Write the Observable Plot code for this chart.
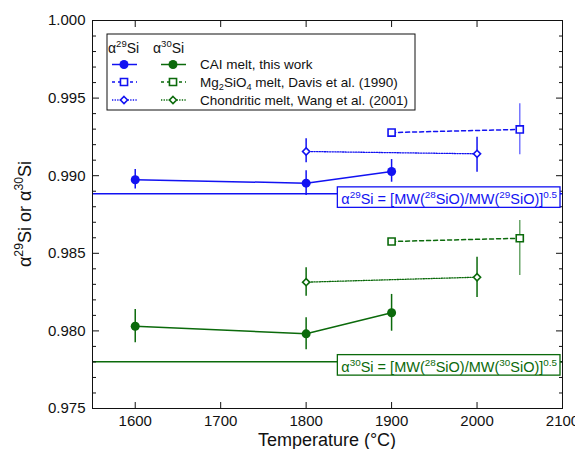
<!DOCTYPE html>
<html><head><meta charset="utf-8">
<script src="https://cdn.jsdelivr.net/npm/d3@7"></script>
<script src="https://cdn.jsdelivr.net/npm/@observablehq/plot@0.6"></script>
<style>body{margin:0;background:#fff;} svg{display:block}</style>
</head><body><div id="chart"></div>
<script>
// ---- data ----
const caiT = [1600, 1800, 1900];
const cai29 = [0.98974, 0.98952, 0.99027];
const cai29Lo = [0.98915, 0.98872, 0.98958];
const cai29Hi = [0.99040, 0.99032, 0.99104];
const cai30 = [0.98030, 0.97981, 0.98117];
const cai30Lo = [0.97923, 0.97878, 0.97998];
const cai30Hi = [0.98138, 0.98084, 0.98235];

const davisT = [1900, 2050];
const davis29 = [0.99278, 0.99298];
const davis29Lo = [null, 0.99135];
const davis29Hi = [null, 0.99463];
const davis30 = [0.98576, 0.98597];
const davis30Lo = [null, 0.98357];
const davis30Hi = [null, 0.98712];

const wangT = [1800, 2000];
const wang29 = [0.99156, 0.99141];
const wang29Lo = [0.99083, 0.99023];
const wang29Hi = [0.99238, 0.99248];
const wang30 = [0.98314, 0.98346];
const wang30Lo = [0.98224, 0.98215];
const wang30Hi = [0.98407, 0.98475];

const theory29 = [0.98883];
const theory30 = [0.97802];

const xTicks = [1600, 1700, 1800, 1900, 2000, 2100];
const yMajor = [0.975, 0.980, 0.985, 0.990, 0.995, 1.000];
const yMinor = [0.976, 0.977, 0.978, 0.979, 0.981, 0.982, 0.983, 0.984, 0.986, 0.987, 0.988, 0.989,
                0.991, 0.992, 0.993, 0.994, 0.996, 0.997, 0.998, 0.999];

const FONT = "'Liberation Sans', Arial, Helvetica, sans-serif";
const BLUE = "#1212f2", GREEN = "#0b6a0b", BLUE_LIGHT = "#7676ff", GREEN_LIGHT = "#6aa66a";
const DASH = "4,3", DOT = "1.3,1.3";

function rows(T, v, lo, hi) {
  return T.map((t, i) => ({t, v: v[i], lo: lo[i], hi: hi[i]}));
}
const cai29R = rows(caiT, cai29, cai29Lo, cai29Hi);
const cai30R = rows(caiT, cai30, cai30Lo, cai30Hi);
const davis29R = rows(davisT, davis29, davis29Lo, davis29Hi);
const davis30R = rows(davisT, davis30, davis30Lo, davis30Hi);
const wang29R = rows(wangT, wang29, wang29Lo, wang29Hi);
const wang30R = rows(wangT, wang30, wang30Lo, wang30Hi);
const hasErr = d => d.lo != null;

function series(data, color, errColor, dash, symbol, r, filled, lw = 1.5) {
  return [
    Plot.ruleX(data.filter(hasErr), {x: "t", y1: "lo", y2: "hi", stroke: errColor, strokeWidth: 1.5}),
    Plot.line(data, {x: "t", y: "v", stroke: color, strokeWidth: lw, strokeDasharray: dash}),
    Plot.dot(data, {x: "t", y: "v", symbol, r, stroke: color, strokeWidth: filled ? 0 : 1.6,
                    fill: filled ? color : "white"})
  ];
}

const chart = Plot.plot({
  width: 575, height: 449,
  marginLeft: 92, marginRight: 13, marginTop: 20, marginBottom: 41,
  style: {fontFamily: FONT, fontSize: "15px", color: "#111", background: "white", overflow: "visible"},
  x: {domain: [1550, 2100], label: null},
  y: {domain: [0.975, 1.0], label: null},
  marks: [
    Plot.ruleY(theory29, {y: d => d, stroke: BLUE, strokeWidth: 1.5}),
    Plot.ruleY(theory30, {y: d => d, stroke: GREEN, strokeWidth: 1.5}),
    ...series(cai29R, BLUE, BLUE, null, "circle", 4.5, true),
    ...series(cai30R, GREEN, GREEN, null, "circle", 4.5, true),
    ...series(davis29R, BLUE, BLUE_LIGHT, DASH, "square", 4, false),
    ...series(davis30R, GREEN, GREEN_LIGHT, DASH, "square", 4, false),
    ...series(wang29R, BLUE, BLUE, DOT, "diamond2", 3.2, false, 1.3),
    ...series(wang30R, GREEN, GREEN, DOT, "diamond2", 3.2, false, 1.3),
    Plot.axisX(xTicks, {anchor: "bottom", tickSize: 0, tickPadding: 7, tickFormat: d3.format("d"), label: null, fontSize: 15}),
    Plot.axisX(xTicks, {anchor: "bottom", tickSize: 6, dy: -6, tickFormat: () => "", label: null}),
    Plot.axisX(xTicks, {anchor: "top", tickSize: 6, dy: 6, tickFormat: () => "", label: null}),
    Plot.axisY(yMajor, {anchor: "left", tickSize: 0, tickPadding: 7, tickFormat: d3.format(".3f"), label: null, fontSize: 15}),
    Plot.axisY(yMajor, {anchor: "left", tickSize: 7, dx: 7, tickFormat: () => "", label: null}),
    Plot.axisY(yMinor, {anchor: "left", tickSize: 4, dx: 4, tickFormat: () => "", label: null}),
    Plot.axisY(yMajor, {anchor: "right", tickSize: 7, dx: -7, tickFormat: () => "", label: null}),
    Plot.axisY(yMinor, {anchor: "right", tickSize: 4, dx: -4, tickFormat: () => "", label: null}),
    Plot.frame({stroke: "#111", strokeWidth: 1})
  ]
});
document.getElementById("chart").appendChild(chart);

// ---- text with sub/superscripts ----
const svg = d3.select(chart);
const xs = chart.scale("x"), ys = chart.scale("y");

function addRich(textSel, parts, size) {
  let shift = 0;
  for (const [s, kind] of parts) {
    const target = kind === "sup" ? -0.42 * size : kind === "sub" ? 0.28 * size : 0;
    textSel.append("tspan").attr("dy", (target - shift).toFixed(2))
      .attr("font-size", kind ? size * 0.68 : size).text(s);
    shift = target;
  }
  return textSel;
}

// axis titles
svg.append("text").attr("x", (xs.apply(1550) + xs.apply(2100)) / 2).attr("y", 446)
  .attr("text-anchor", "middle").attr("font-family", FONT).attr("font-size", 18).attr("fill", "#111")
  .text("Temperature (°C)");
addRich(svg.append("text").attr("transform", `translate(31,${(ys.apply(0.975) + ys.apply(1.0)) / 2}) rotate(-90)`)
  .attr("text-anchor", "middle").attr("font-family", FONT).attr("fill", "#111"),
  [["α"], ["29", "sup"], ["Si or α"], ["30", "sup"], ["Si"]], 18);

// annotation boxes
function annot(val, color, iso) {
  const yl = ys.apply(val);
  const xr = xs.apply(2100);
  const g = svg.append("g");
  const rect = g.append("rect");
  const t = addRich(g.append("text").attr("x", xr - 5).attr("y", yl + 10.5).attr("text-anchor", "end")
    .attr("font-family", FONT).attr("fill", color),
    [["α"], [iso, "sup"], ["Si = [MW("], ["28", "sup"], ["SiO)/MW("], [iso, "sup"], ["SiO)]"], ["0.5", "sup"]], 14.5);
  const bb = t.node().getBBox();
  rect.attr("x", bb.x - 4).attr("y", yl - 6.5).attr("width", xr - 2 - (bb.x - 4)).attr("height", 20.5)
    .attr("fill", "white").attr("stroke", color).attr("stroke-width", 1.3);
}
annot(theory29[0], BLUE, "29");
annot(theory30[0], GREEN, "30");

// legend
const lg = svg.append("g").attr("font-family", FONT).attr("fill", "#111").attr("text-anchor", "start");
lg.append("rect").attr("x", 107).attr("y", 34).attr("width", 308).attr("height", 76)
  .attr("fill", "white").attr("stroke", "#111").attr("stroke-width", 1);
addRich(lg.append("text").attr("x", 108).attr("y", 53), [["α"], ["29", "sup"], ["Si"]], 14);
addRich(lg.append("text").attr("x", 153).attr("y", 53), [["α"], ["30", "sup"], ["Si"]], 14);
const legRows = [
  {y: 64.5, dash: null, lw: 1.5, sym: d3.symbolCircle, size: Math.PI * 4.5 * 4.5, filled: true, label: [["CAI melt, this work"]]},
  {y: 82, dash: "3,3", lw: 1.5, sym: d3.symbolSquare, size: Math.PI * 16, filled: false,
   label: [["Mg"], ["2", "sub"], ["SiO"], ["4", "sub"], [" melt, Davis et al. (1990)"]]},
  {y: 100, dash: DOT, lw: 1.3, sym: d3.symbolDiamond2, size: Math.PI * 3.2 * 3.2, filled: false,
   label: [["Chondritic melt, Wang et al. (2001)"]]}
];
for (const row of legRows) {
  for (const [cx, color] of [[124, BLUE], [173, GREEN]]) {
    lg.append("line").attr("x1", cx - 12).attr("x2", cx + 13).attr("y1", row.y).attr("y2", row.y)
      .attr("stroke", color).attr("stroke-width", row.lw).attr("stroke-dasharray", row.dash);
    lg.append("path").attr("d", d3.symbol(row.sym, row.size)()).attr("transform", `translate(${cx},${row.y})`)
      .attr("fill", row.filled ? color : "white").attr("stroke", color).attr("stroke-width", row.filled ? 0 : 1.6);
  }
  addRich(lg.append("text").attr("x", 200).attr("y", row.y + 4.5), row.label, 13.5);
}
</script>
</body></html>
